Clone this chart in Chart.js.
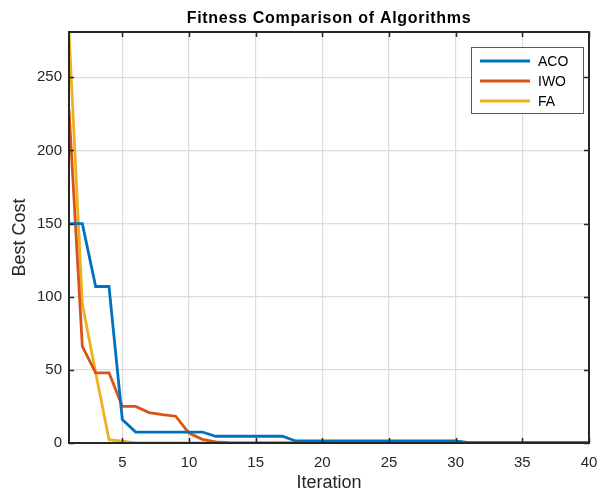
<!DOCTYPE html>
<html>
<head>
<meta charset="utf-8">
<script src="https://cdn.jsdelivr.net/npm/chart.js@4.4.1/dist/chart.umd.min.js"></script>
<style>
  html, body { margin: 0; padding: 0; background: #ffffff; }
  #wrap { width: 598px; height: 494px; position: relative; }
</style>
</head>
<body>
<div id="wrap"><canvas id="c" width="598" height="494"></canvas></div>
<script>
// Iteration index and best cost per algorithm
const iterations = [1,2,3,4,5,6,7,8,9,10,11,12,13,14,15,16,17,18,19,20,
                    21,22,23,24,25,26,27,28,29,30,31,32,33,34,35,36,37,38,39,40];
const acoCost = [150,150,107,107,16,7.5,7.5,7.5,7.5,7.5,7.5,4.6,4.6,4.6,4.6,4.6,4.6,1.4,1.4,1.4,
                 1.4,1.4,1.4,1.4,1.4,1.4,1.4,1.4,1.4,1.4,0.3,0.3,0.3,0.3,0.3,0.3,0.3,0.3,0.3,0.3];
const iwoCost = [228,66,48,48,25,25,20.8,19.4,18.3,6.8,2.5,0.7,0.2,0,0,0,0,0,0,0,
                 0,0,0,0,0,0,0,0,0,0,0,0,0,0,0,0,0,0,0,0];
const faCost  = [281,95,48,2.3,1.2,0,0,0,0,0,0,0,0,0,0,0,0,0,0,0,
                 0,0,0,0,0,0,0,0,0,0,0,0,0,0,0,0,0,0,0,0];
const seriesNames = ['ACO', 'IWO', 'FA'];
const seriesColors = ['#0072BD', '#D95319', '#EDB120'];
const xTicks = [5,10,15,20,25,30,35,40];
const yTicks = [0,50,100,150,200,250];
const chartTitle = 'Fitness Comparison of Algorithms';

const FONT = '"Liberation Sans", Arial, Helvetica, sans-serif';
const TXT = '#262626';

function pts(ys) { return iterations.map((x, i) => ({ x: x, y: ys[i] })); }

// Title, box outline, inward tick marks and an in-plot legend
const boxPlugin = {
  id: 'boxPlugin',
  afterDatasetsDraw(chart) {
    const ctx = chart.ctx;
    const a = chart.chartArea;
    const xs = chart.scales.x, ys = chart.scales.y;
    ctx.save();

    // title centred over the plot area
    ctx.fillStyle = '#000000';
    ctx.font = 'bold 16px ' + FONT;
    if ('letterSpacing' in ctx) ctx.letterSpacing = '0.7px';
    ctx.textAlign = 'center';
    ctx.textBaseline = 'alphabetic';
    ctx.fillText(chartTitle, (a.left + a.right) / 2, 23);
    if ('letterSpacing' in ctx) ctx.letterSpacing = '0px';

    ctx.strokeStyle = TXT;
    ctx.lineWidth = 1.5;
    ctx.beginPath();
    xTicks.forEach(v => {
      const px = Math.round(xs.getPixelForValue(v)) + 0.5;
      ctx.moveTo(px, a.bottom); ctx.lineTo(px, a.bottom - 5);
      ctx.moveTo(px, a.top); ctx.lineTo(px, a.top + 5);
    });
    yTicks.forEach(v => {
      const py = Math.round(ys.getPixelForValue(v)) + 0.5;
      ctx.moveTo(a.left, py); ctx.lineTo(a.left + 5, py);
      ctx.moveTo(a.right, py); ctx.lineTo(a.right - 5, py);
    });
    ctx.stroke();
    ctx.lineWidth = 2;
    ctx.strokeRect(a.left, a.top, a.right - a.left, a.bottom - a.top);

    // legend
    const lx = 471, ly = 47, lw = 112, lh = 66;
    ctx.fillStyle = '#ffffff';
    ctx.fillRect(lx, ly, lw, lh);
    ctx.strokeStyle = '#5a5a5a';
    ctx.lineWidth = 1;
    ctx.strokeRect(lx + 0.5, ly + 0.5, lw, lh);
    ctx.font = '14px ' + FONT;
    ctx.textBaseline = 'middle';
    ctx.textAlign = 'left';
    seriesNames.forEach((name, i) => {
      const y = ly + 14 + i * 20;
      ctx.strokeStyle = seriesColors[i];
      ctx.lineWidth = 3;
      ctx.beginPath();
      ctx.moveTo(480, y); ctx.lineTo(530, y);
      ctx.stroke();
      ctx.fillStyle = '#000000';
      ctx.fillText(name, 538, y + 1);
    });
    ctx.restore();
  }
};

const datasets = [acoCost, iwoCost, faCost].map((arr, i) => ({
  label: seriesNames[i],
  data: pts(arr),
  borderColor: seriesColors[i],
  backgroundColor: seriesColors[i],
  borderWidth: 2.8,
  pointRadius: 0,
  tension: 0,
  fill: false
}));

new Chart(document.getElementById('c'), {
  type: 'line',
  data: { datasets: datasets },
  options: {
    responsive: false,
    animation: false,
    layout: { padding: { left: 0, right: 9, top: 32, bottom: 0 } },
    plugins: {
      legend: { display: false },
      tooltip: { enabled: false },
      title: { display: false }
    },
    scales: {
      x: {
        type: 'linear',
        min: 1, max: 40,
        afterBuildTicks: s => { s.ticks = xTicks.map(v => ({ value: v })); },
        afterFit: s => { s.height = 51; s.paddingLeft = 0; s.paddingRight = 0; },
        grid: { color: '#dcdcdc', lineWidth: 1.2, drawTicks: false },
        border: { display: false },
        ticks: { color: TXT, font: { family: FONT, size: 15 }, padding: 11, maxRotation: 0 },
        title: { display: true, text: 'Iteration', color: TXT, font: { family: FONT, size: 18 }, padding: { top: 0, bottom: 0 } }
      },
      y: {
        type: 'linear',
        min: 0, max: 281,
        afterBuildTicks: s => { s.ticks = yTicks.map(v => ({ value: v })); },
        afterFit: s => { s.width = 69; s.paddingTop = 0; s.paddingBottom = 0; },
        grid: { color: '#dcdcdc', lineWidth: 1.2, drawTicks: false },
        border: { display: false },
        ticks: { color: TXT, font: { family: FONT, size: 15 }, padding: 7 },
        title: { display: true, text: 'Best Cost', color: TXT, font: { family: FONT, size: 18 }, padding: { top: 9, bottom: 0 } }
      }
    }
  },
  plugins: [boxPlugin]
});
</script>
</body>
</html>
